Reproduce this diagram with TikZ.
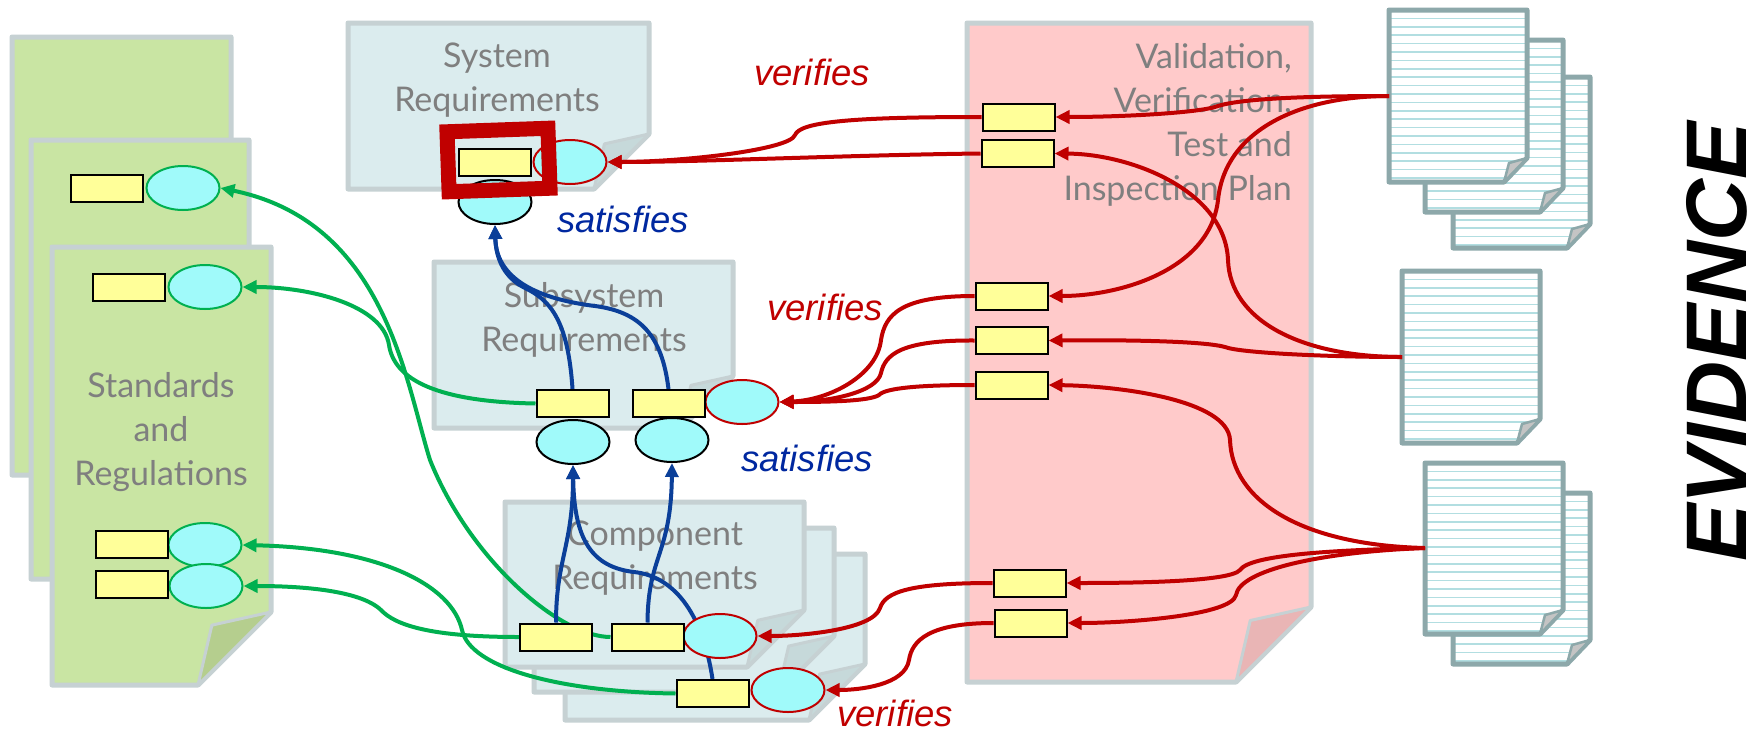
\documentclass[tikz,border=0pt]{standalone}
\usepackage{fontspec}
\setmainfont{Liberation Sans}
\newfontfamily\gillfont{Lato}
\usetikzlibrary{arrows.meta,shapes.geometric}

\definecolor{stdfill}{HTML}{C9E5A3}
\definecolor{stdfold}{HTML}{B5CE8E}
\definecolor{reqfill}{HTML}{DBECEE}
\definecolor{reqfold}{HTML}{C6D9DA}
\definecolor{planfill}{HTML}{FFCACA}
\definecolor{planfold}{HTML}{E9B5B5}
\definecolor{sheetline}{HTML}{C6D1D3}
\definecolor{sheettext}{HTML}{7F7F7F}
\definecolor{docline}{HTML}{8DA8AA}
\definecolor{docrule}{HTML}{B2DEE1}
\definecolor{docfold}{HTML}{C4C4C4}
\definecolor{reqyellow}{HTML}{FFFF99}
\definecolor{reqcyan}{HTML}{A0FAFA}
\definecolor{verred}{HTML}{C00000}
\definecolor{satblue}{HTML}{0B3F99}
\definecolor{tracegreen}{HTML}{00B050}
\definecolor{satlabel}{HTML}{0028A0}

\pgfdeclarelayer{bg}
\pgfdeclarelayer{links}
\pgfsetlayers{bg,links,main}

% document sheet with a folded bottom-right corner
\newcommand\foldsheet[7]{%
  \draw[sheetline, line width=5pt, fill=#6, line join=round]
    (#1,#2) -- (#3,#2) -- (#3,{#4-#5}) -- ({#3-#5},#4) -- (#1,#4) -- cycle;
  \draw[sheetline, line width=3pt, fill=#7, line join=round]
    (#3,{#4-#5}) -- ({#3-0.81*#5},{#4-0.82*#5}) -- ({#3-#5},#4) -- cycle;
}

% ruled evidence page
\newcommand\evpage[4]{%
  \begin{scope}
    \clip (#1,#2) -- (#3,#2) -- (#3,{#4-24}) -- ({#3-23},#4) -- (#1,#4) -- cycle;
    \fill[white] (#1,#2) rectangle (#3,#4);
    \foreach \k in {1,...,20}
      \draw[docrule, line width=1.6pt] (#1,{#2+\k*8.4}) -- (#3,{#2+\k*8.4});
  \end{scope}
  \draw[docline, line width=5pt, line join=round]
    (#1,#2) -- (#3,#2) -- (#3,{#4-24}) -- ({#3-23},#4) -- (#1,#4) -- cycle;
  \draw[docline, fill=docfold, line width=2.5pt, line join=round]
    (#3,{#4-24}) -- ({#3-18},{#4-19}) -- ({#3-23},#4) -- cycle;
}

\tikzset{
  idbox/.style={draw=black, line width=2pt, fill=reqyellow, minimum width=72pt,
    minimum height=27pt, inner sep=0pt},
  reqdot/.style={ellipse, line width=2pt, fill=reqcyan, minimum width=73pt,
    minimum height=44pt, inner sep=0pt},
  plaindot/.style={reqdot, draw=black},
  verdot/.style={reqdot, draw=verred},
  stddot/.style={reqdot, draw=tracegreen},
  link/.style={line width=4pt, -{Triangle[length=14pt,width=13pt]}},
  verlink/.style={link, draw=verred},
  satlink/.style={link, draw=satblue},
  tracelink/.style={link, draw=tracegreen},
  sheettxt/.style={text=sheettext, font=\gillfont\fontsize{34}{44}\selectfont,
    align=center, inner sep=0pt},
  relverb/.style={font=\itshape\fontsize{36.5}{40}\selectfont, inner sep=0pt},
}

\begin{document}
\begin{tikzpicture}[x=1pt,y=-1pt]
\useasboundingbox (0,0) rectangle (1763,731);

\begin{pgfonlayer}{bg}
  \fill[white] (0,0) rectangle (1763,731);
  % standards and regulations
  \foldsheet{12}{37}{231}{475}{73}{stdfill}{stdfold}
  \foldsheet{31}{140}{249}{579}{73}{stdfill}{stdfold}
  \foldsheet{52}{247}{271}{685}{73}{stdfill}{stdfold}
  % requirement documents
  \foldsheet{348}{23}{649}{189}{55}{reqfill}{reqfold}
  \foldsheet{434}{262}{733}{428}{52}{reqfill}{reqfold}
  \foldsheet{565}{554}{865}{720}{56}{reqfill}{reqfold}
  \foldsheet{534}{528}{834}{692}{56}{reqfill}{reqfold}
  \foldsheet{505}{502}{804}{667}{57}{reqfill}{reqfold}
  % plan
  \foldsheet{967}{23}{1311}{682}{75}{planfill}{planfold}
  % evidence
  \evpage{1453}{77}{1590}{248}
  \evpage{1425}{40}{1563}{212}
  \evpage{1389}{10}{1527}{182}
  \evpage{1402}{271}{1540}{443}
  \evpage{1453}{493}{1590}{664}
  \evpage{1425}{463}{1563}{634}

  \node[sheettxt] (stdT) at (161,432) {Standards\\and\\Regulations};
  \node[sheettxt] (sysT) at (497,80) {System\\Requirements};
  \node[sheettxt] (subT) at (584,320) {Subsystem\\Requirements};
  \node[sheettxt] (compT) at (655,558) {Component\\Requirements};
  \node[sheettxt, align=right, anchor=east] (planT) at (1292,125)
    {Validation,\\Verification,\\Test and\\Inspection Plan};
\end{pgfonlayer}

\coordinate (ev1) at (1389,96);
\coordinate (ev2) at (1402,357);
\coordinate (ev3) at (1425,548);

% system level
\node[plaindot] (sysE2) at (495,202) {};
\node[verdot] (sysE) at (570,162) {};
\node[idbox] (sysR) at (495,162) {};
\node[draw=verred, line width=15pt, minimum width=101pt, minimum height=60pt,
  inner sep=0pt, rotate=2] (focus) at (498.5,160) {};

% subsystem level
\node[plaindot] (subE1) at (573,442) {};
\node[plaindot] (subE2) at (672,440) {};
\node[verdot] (subRE) at (742,402) {};
\node[idbox] (subR1) at (572.5,403.5) {};
\node[idbox] (subR2) at (668.5,403.5) {};

% component level
\node[verdot] (compRE) at (720,636) {};
\node[verdot] (botRE) at (788,690) {};
\node[idbox] (compR1) at (556,637) {};
\node[idbox] (compR2) at (647.5,637) {};
\node[idbox] (compR3) at (712.5,693.5) {};

% standards
\node[stddot] (stdE2) at (183,188) {};
\node[idbox] (stdR2) at (107,188) {};
\node[stddot] (stdE3) at (205,287) {};
\node[idbox] (stdR3) at (129,287) {};
\node[stddot] (stdE4) at (205,545) {};
\node[idbox] (stdR4) at (131.5,544.5) {};
\node[stddot] (stdE5) at (206,586) {};
\node[idbox] (stdR5) at (132,584.5) {};

% plan entries
\node[idbox] (v1) at (1018.5,117) {};
\node[idbox] (v2) at (1017.5,153.5) {};
\node[idbox] (v3) at (1011.5,296) {};
\node[idbox] (v4) at (1011.5,340.5) {};
\node[idbox] (v5) at (1011.5,385) {};
\node[idbox] (v6) at (1029.5,583) {};
\node[idbox] (v7) at (1030.5,623) {};

% relation labels
\node[relverb, text=verred] (lv1) at (812,72) {verifies};
\node[relverb, text=verred] (lv2) at (825,307) {verifies};
\node[relverb, text=verred] (lv3) at (895,713) {verifies};
\node[relverb, text=satlabel] (ls1) at (623,219) {satisfies};
\node[relverb, text=satlabel] (ls2) at (807,458) {satisfies};

\node[rotate=90, font=\bfseries\itshape\fontsize{86}{86}\selectfont, inner sep=0pt]
  (evT) at (1717,342) {EVIDENCE};

\begin{pgfonlayer}{links}
  % traces to standards
  \draw[tracelink] (compR2.west) .. controls (560,637) and (470,560) .. (430,460)
    .. controls (405,380) and (385,222) .. (stdE2.east);
  \draw[tracelink] (compR1.west) .. controls (430,637) and (395,625) .. (381,610)
    .. controls (360,590) and (300,586) .. (stdE5.east);
  \draw[tracelink] (compR3.west) .. controls (560,692) and (470,668) .. (462,630)
    .. controls (452,585) and (380,548) .. (stdE4.east);
  \draw[tracelink] (subR1.west) .. controls (450,402) and (395,385) .. (389,345)
    .. controls (383,305) and (310,287) .. (stdE3.east);

  % satisfies
  \draw[satlink] (compR1.north) .. controls (556,560) and (573,545) .. (subE1.south);
  \draw[satlink] (compR3.north) .. controls (702,610) and (672,576) .. (634,572)
    .. controls (592,567) and (574,540) .. (subE1.south);
  \draw[satlink] (compR2.north) .. controls (648,555) and (671,555) .. (subE2.south);
  \draw[satlink] (subR1.north) .. controls (568,320) and (550,300) .. (525,288)
    .. controls (505,278) and (496,260) .. (sysE2.south);
  \draw[satlink] (subR2.north) .. controls (662,335) and (640,312) .. (595,306)
    .. controls (530,298) and (496,275) .. (sysE2.south);

  % evidence to plan
  \draw[verlink] (ev1) .. controls (1300,96) and (1240,99) .. (1218,106)
    .. controls (1200,113) and (1120,117) .. (v1.east);
  \draw[verlink] (ev1) .. controls (1300,96) and (1225,130) .. (1218,200)
    .. controls (1210,270) and (1120,296) .. (v3.east);
  \draw[verlink] (ev2) .. controls (1300,357) and (1230,320) .. (1228,260)
    .. controls (1225,190) and (1130,154) .. (v2.east);
  \draw[verlink] (ev2) .. controls (1330,357) and (1240,353) .. (1225,347)
    .. controls (1200,340) and (1100,340) .. (v4.east);
  \draw[verlink] (ev3) .. controls (1300,545) and (1232,500) .. (1230,440)
    .. controls (1228,400) and (1120,386) .. (v5.east);
  \draw[verlink] (ev3) .. controls (1330,550) and (1250,555) .. (1240,570)
    .. controls (1230,582) and (1130,583) .. (v6.east);
  \draw[verlink] (ev3) .. controls (1320,552) and (1240,570) .. (1236,595)
    .. controls (1232,615) and (1130,623) .. (v7.east);

  % plan to requirements
  \draw[verlink] (v1.west) .. controls (850,117) and (800,122) .. (795,135)
    .. controls (790,150) and (680,162) .. (sysE.east);
  \draw[verlink] (v2.west) .. controls (850,155) and (700,162) .. (sysE.east);
  \draw[verlink] (v3.west) .. controls (900,296) and (885,315) .. (881,340)
    .. controls (877,375) and (830,400) .. (subRE.east);
  \draw[verlink] (v4.west) .. controls (900,340) and (885,355) .. (881,373)
    .. controls (877,392) and (830,402) .. (subRE.east);
  \draw[verlink] (v5.west) .. controls (920,385) and (885,388) .. (879,395)
    .. controls (870,401) and (830,402) .. (subRE.east);
  \draw[verlink] (v6.west) .. controls (910,583) and (885,592) .. (880,608)
    .. controls (873,630) and (800,636) .. (compRE.east);
  \draw[verlink] (v7.west) .. controls (930,623) and (912,640) .. (909,660)
    .. controls (905,685) and (860,690) .. (botRE.east);
\end{pgfonlayer}
\end{tikzpicture}
\end{document}
